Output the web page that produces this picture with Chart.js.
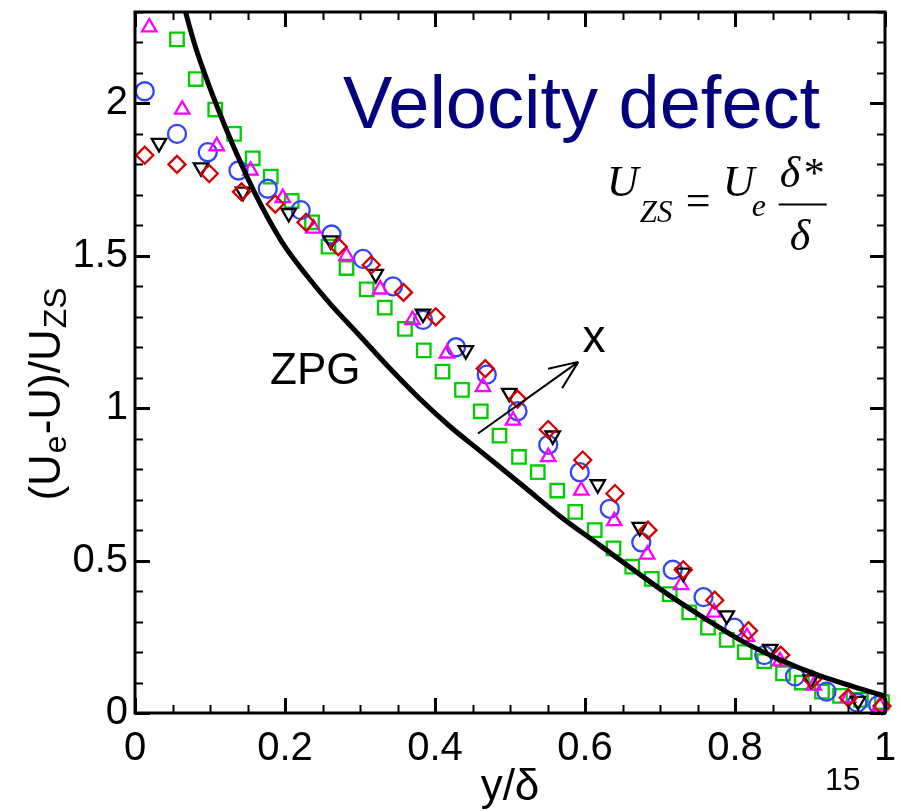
<!DOCTYPE html>
<html>
<head>
<meta charset="utf-8">
<title>Velocity defect</title>
<script src="https://cdn.jsdelivr.net/npm/chart.js@4.4.1/dist/chart.umd.min.js"></script>
<style>
  html, body { margin: 0; padding: 0; background: #fff; }
</style>
</head>
<body>
<canvas id="myCanvas" width="901" height="812"></canvas>
<script>
"use strict";

// ZPG reference profile
const zpgX = [0.064, 0.08, 0.10, 0.12, 0.14, 0.16, 0.18, 0.20, 0.23, 0.26, 0.30, 0.34, 0.38, 0.42, 0.46, 0.52, 0.567, 0.62, 0.67, 0.713, 0.76, 0.81, 0.86, 0.91, 0.96, 1.0];
const zpgY = [2.33, 2.19, 2.05, 1.925, 1.81, 1.705, 1.612, 1.53, 1.432, 1.343, 1.237, 1.13, 1.03, 0.94, 0.86, 0.74, 0.645, 0.55, 0.46, 0.385, 0.31, 0.235, 0.175, 0.125, 0.085, 0.055];

// measured stations (y/delta, defect)
const squareX = [0.056, 0.081, 0.107, 0.132, 0.157, 0.181, 0.209, 0.236, 0.258, 0.282, 0.309, 0.333, 0.360, 0.385, 0.410, 0.436, 0.461, 0.486, 0.512, 0.537, 0.563, 0.587, 0.613, 0.638, 0.663, 0.689, 0.713, 0.739, 0.764, 0.789, 0.813, 0.839, 0.864, 0.889, 0.916, 0.940, 0.968, 0.996];
const squareY = [2.21, 2.08, 1.98, 1.90, 1.82, 1.76, 1.68, 1.61, 1.53, 1.46, 1.39, 1.33, 1.26, 1.19, 1.12, 1.06, 0.99, 0.91, 0.84, 0.79, 0.73, 0.66, 0.60, 0.54, 0.48, 0.44, 0.39, 0.33, 0.28, 0.24, 0.20, 0.17, 0.13, 0.10, 0.07, 0.056, 0.043, 0.036];

const circleX = [0.013, 0.056, 0.097, 0.138, 0.177, 0.221, 0.262, 0.304, 0.344, 0.384, 0.428, 0.469, 0.510, 0.551, 0.593, 0.633, 0.675, 0.717, 0.758, 0.799, 0.839, 0.880, 0.922, 0.963, 0.991];
const circleY = [2.04, 1.90, 1.84, 1.78, 1.72, 1.65, 1.57, 1.49, 1.40, 1.29, 1.20, 1.11, 0.99, 0.88, 0.79, 0.67, 0.56, 0.47, 0.38, 0.28, 0.19, 0.12, 0.07, 0.034, 0.026];

const triUpX = [0.019, 0.063, 0.109, 0.154, 0.197, 0.238, 0.282, 0.327, 0.370, 0.416, 0.464, 0.504, 0.551, 0.595, 0.639, 0.683, 0.728, 0.772, 0.816, 0.860, 0.905, 0.951, 0.993];
const triUpY = [2.25, 1.98, 1.86, 1.78, 1.69, 1.59, 1.50, 1.39, 1.29, 1.18, 1.07, 0.96, 0.84, 0.73, 0.63, 0.52, 0.42, 0.33, 0.25, 0.17, 0.09, 0.05, 0.023];

const triDownX = [0.032, 0.088, 0.144, 0.205, 0.261, 0.321, 0.384, 0.441, 0.499, 0.557, 0.617, 0.673, 0.731, 0.789, 0.847, 0.901, 0.964];
const triDownY = [1.87, 1.79, 1.71, 1.64, 1.55, 1.44, 1.31, 1.19, 1.05, 0.91, 0.75, 0.61, 0.46, 0.32, 0.21, 0.11, 0.039];

const diamondX = [0.013, 0.056, 0.099, 0.142, 0.187, 0.228, 0.271, 0.315, 0.358, 0.401, 0.467, 0.510, 0.551, 0.597, 0.640, 0.684, 0.731, 0.773, 0.818, 0.861, 0.903, 0.951, 0.996];
const diamondY = [1.83, 1.80, 1.77, 1.71, 1.67, 1.61, 1.53, 1.47, 1.38, 1.30, 1.13, 1.03, 0.93, 0.83, 0.72, 0.60, 0.47, 0.37, 0.27, 0.19, 0.11, 0.05, 0.023];

// axis ranges and labelled ticks
const xMin = 0, xMax = 1, xStep = 0.05, xMajor = 0.2;
const yMin = 0, yMax = 2.3, yStep = 0.1, yMajor = 0.5;

const SANS = '"Liberation Sans", Arial, sans-serif';
const SERIF = '"Liberation Serif", "Times New Roman", serif';

function pts(xs, ys) {
  return xs.map((x, i) => ({ x: x, y: ys[i] }));
}

function isMajor(v, step) {
  return Math.abs(v / step - Math.round(v / step)) < 1e-6;
}

function marker(label, xs, ys, style, color, radius, rotation) {
  return {
    label: label,
    data: pts(xs, ys),
    pointStyle: style,
    pointRadius: radius,
    pointRotation: rotation || 0,
    pointBorderWidth: 2.3,
    pointBorderColor: color,
    pointBackgroundColor: "rgba(0,0,0,0)",
    showLine: false,
    clip: false,
  };
}

// inward tick marks on all four sides plus the frame
const axisFrame = {
  id: "axisFrame",
  afterDatasetsDraw(chart) {
    const { ctx, chartArea: a } = chart;
    const xs = chart.scales.x, ys = chart.scales.y;
    ctx.save();
    ctx.strokeStyle = "#000";
    ctx.lineCap = "butt";
    xs.ticks.forEach((t) => {
      const px = Math.round(xs.getPixelForValue(t.value)) + 0.5;
      const major = isMajor(t.value, xMajor);
      const len = major ? 15 : 8;
      ctx.lineWidth = major ? 3 : 2;
      ctx.beginPath();
      ctx.moveTo(px, a.bottom);
      ctx.lineTo(px, a.bottom - len);
      ctx.moveTo(px, a.top);
      ctx.lineTo(px, a.top + len);
      ctx.stroke();
    });
    ys.ticks.forEach((t) => {
      const py = Math.round(ys.getPixelForValue(t.value)) + 0.5;
      const major = isMajor(t.value, yMajor);
      const len = major ? 15 : 8;
      ctx.lineWidth = major ? 3 : 2;
      ctx.beginPath();
      ctx.moveTo(a.left, py);
      ctx.lineTo(a.left + len, py);
      ctx.moveTo(a.right, py);
      ctx.lineTo(a.right - len, py);
      ctx.stroke();
    });
    ctx.lineWidth = 3;
    ctx.strokeRect(a.left, a.top, a.right - a.left, a.bottom - a.top);
    ctx.restore();
  },
};

// titles, labels and the formula
const annotations = {
  id: "annotations",
  afterDraw(chart) {
    const { ctx, chartArea: a } = chart;
    const xs = chart.scales.x, ys = chart.scales.y;
    const X = (v) => xs.getPixelForValue(v);
    const Y = (v) => ys.getPixelForValue(v);
    ctx.save();
    ctx.textAlign = "left";
    ctx.textBaseline = "alphabetic";

    // heading
    ctx.fillStyle = "#000080";
    ctx.font = "74px " + SANS;
    ctx.fillText("Velocity defect", X(0.2773), Y(1.918));

    ctx.fillStyle = "#000";
    ctx.font = "44px " + SANS;
    ctx.fillText("ZPG", X(0.18), Y(1.079));

    ctx.textAlign = "center";
    ctx.font = "46px " + SANS;
    ctx.fillText("x", X(0.612), Y(1.184));
    ctx.textAlign = "left";

    // arrow showing downstream direction
    const x1 = X(0.4573), y1 = Y(0.917), x2 = X(0.5911), y2 = Y(1.152);
    const ang = Math.atan2(y2 - y1, x2 - x1);
    ctx.strokeStyle = "#000";
    ctx.lineWidth = 2;
    ctx.beginPath();
    ctx.moveTo(x1, y1);
    ctx.lineTo(x2, y2);
    [-0.4, 0.4].forEach((d) => {
      ctx.moveTo(x2, y2);
      ctx.lineTo(x2 - 31 * Math.cos(ang + d), y2 - 31 * Math.sin(ang + d));
    });
    ctx.stroke();

    // U_ZS = U_e delta*/delta
    const fx = X(0.629), fb = Y(1.695);
    const it44 = "italic 44px " + SERIF;
    ctx.font = it44;
    ctx.fillText("U", fx, fb);
    ctx.font = "italic 31px " + SERIF;
    ctx.fillText("ZS", fx + 33, fb + 26);
    ctx.font = "44px " + SERIF;
    ctx.fillText("=", fx + 79, fb + 19);
    ctx.font = it44;
    ctx.fillText("U", fx + 116, fb);
    ctx.font = "italic 32px " + SERIF;
    ctx.fillText("e", fx + 145, fb + 20);
    ctx.font = it44;
    ctx.fillText("\u03b4", fx + 173, fb - 9);
    ctx.font = "42px " + SERIF;
    ctx.fillText("*", fx + 197, fb - 9);
    ctx.lineWidth = 2;
    ctx.beginPath();
    ctx.moveTo(fx + 172, fb + 8);
    ctx.lineTo(fx + 220, fb + 8);
    ctx.stroke();
    ctx.font = it44;
    ctx.fillText("\u03b4", fx + 183, fb + 54);

    // axis titles
    ctx.font = "44px " + SANS;
    ctx.textAlign = "center";
    ctx.fillText("y/\u03b4", (a.left + a.right) / 2, 800);
    ctx.textAlign = "left";
    ctx.font = "32px " + SANS;
    ctx.fillText("15", 825, 790);

    const big = "44px " + SANS, sub = "32px " + SANS;
    const yRuns = [["(U", big, 0, 0], ["e", sub, 1, 6], ["-U)/U", big, 1, 0], ["ZS", sub, 1, 6]];
    let w = 0;
    yRuns.forEach((r) => {
      ctx.font = r[1];
      w += ctx.measureText(r[0]).width + r[2];
    });
    ctx.translate(60, 394 + w / 2);
    ctx.rotate(-Math.PI / 2);
    let x = 0;
    yRuns.forEach((r) => {
      ctx.font = r[1];
      x += r[2];
      ctx.fillText(r[0], x, r[3]);
      x += ctx.measureText(r[0]).width;
    });
    ctx.restore();
  },
};

const ctx = document.getElementById("myCanvas");
new Chart(ctx, {
  type: "scatter",
  data: {
    datasets: [
      {
        label: "ZPG",
        data: pts(zpgX, zpgY),
        showLine: true,
        borderColor: "#000",
        borderWidth: 5,
        pointRadius: 0,
        cubicInterpolationMode: "monotone",
        clip: 0,
      },
      marker("station 5", diamondX, diamondY, "rectRot", "#d20000", 8.5),
      marker("station 4", triDownX, triDownY, "triangle", "#000000", 8.3, 180),
      marker("station 3", triUpX, triUpY, "triangle", "#ff00ff", 8.3),
      marker("station 2", circleX, circleY, "circle", "#3344ff", 9),
      marker("station 1", squareX, squareY, "rect", "#00cc00", 9.5),
    ],
  },
  options: {
    responsive: false,
    devicePixelRatio: 1,
    animation: false,
    layout: { padding: { top: 12, right: 16, left: 0, bottom: 0 } },
    plugins: { legend: { display: false }, tooltip: { enabled: false } },
    scales: {
      x: {
        type: "linear",
        min: xMin,
        max: xMax,
        grid: { display: false, drawTicks: false },
        border: { display: false },
        ticks: {
          stepSize: xStep,
          autoSkip: false,
          maxRotation: 0,
          padding: 12,
          color: "#000",
          font: { family: SANS, size: 40 },
          callback: (v) => (isMajor(v, xMajor) ? String(Math.round(v * 10) / 10) : ""),
        },
        afterFit: (s) => {
          s.height = 99;
          s.paddingLeft = 0;
          s.paddingRight = 0;
        },
      },
      y: {
        type: "linear",
        min: yMin,
        max: yMax,
        grid: { display: false, drawTicks: false },
        border: { display: false },
        ticks: {
          stepSize: yStep,
          autoSkip: false,
          padding: 7,
          color: "#000",
          font: { family: SANS, size: 40 },
          callback: (v) => (isMajor(v, yMajor) ? String(Math.round(v * 10) / 10) : ""),
        },
        afterFit: (s) => {
          s.width = 135;
          s.paddingTop = 0;
          s.paddingBottom = 0;
        },
      },
    },
  },
  plugins: [axisFrame, annotations],
});
</script>
</body>
</html>
